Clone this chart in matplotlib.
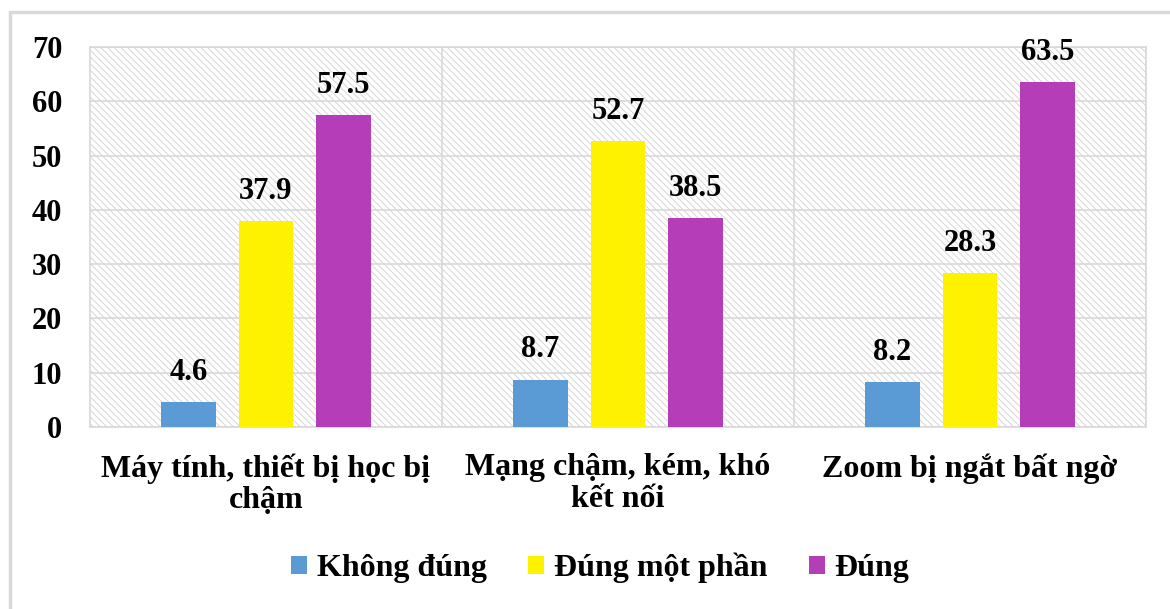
"""
Grouped bar chart: khó khăn khi học trực tuyến (%)
"""
import matplotlib.pyplot as plt
from matplotlib.patches import Rectangle
import numpy as np

categories = ['Máy tính, thiết bị học bị\nchậm', 'Mạng chậm, kém, khó\nkết nối', 'Zoom bị ngắt bất ngờ']
series_names = ['Không đúng', 'Đúng một phần', 'Đúng']
khong_dung = [4.6, 8.7, 8.2]
dung_mot_phan = [37.9, 52.7, 28.3]
dung = [57.5, 38.5, 63.5]
colors = ['#5B9BD5', '#FFF200', '#B63DB8']
yticks = [0, 10, 20, 30, 40, 50, 60, 70]

plt.rcParams['font.family'] = ['Liberation Serif', 'DejaVu Serif']
plt.rcParams['font.weight'] = 'bold'
plt.rcParams['hatch.linewidth'] = 0.7

fig = plt.figure(figsize=(11.7, 6.09), dpi=100)
# outer chart border
fig.add_artist(Rectangle((10 / 1170, -0.05), 1.2, 1 - 12 / 609 + 0.05,
                         transform=fig.transFigure, fill=False,
                         edgecolor='#D9D9D9', lw=2.5))

ax = fig.add_axes([90 / 1170, 1 - 427 / 609, (1146 - 90) / 1170, (427 - 47) / 609])

# hatched plot area
ax.add_patch(Rectangle((0, 0), 1, 1, transform=ax.transAxes, facecolor='white',
                       edgecolor='#D6D6D6', hatch='\\\\\\\\\\', lw=0, zorder=0))

x = np.arange(len(categories))
width = 0.155
step = 0.22
all_series = [khong_dung, dung_mot_phan, dung]
for i, (vals, name, c) in enumerate(zip(all_series, series_names, colors)):
    pos = x + (i - 1) * step
    bars = ax.bar(pos, vals, width, color=c, label=name, zorder=3)
    for b, v in zip(bars, vals):
        ax.annotate(f'{v}', (b.get_x() + b.get_width() / 2, v), xytext=(0, 11),
                    textcoords='offset points', ha='center', va='bottom',
                    fontsize=22, fontweight='bold')

ax.set_xlim(-0.5, 2.5)
ax.set_ylim(0, 70)
ax.set_yticks(yticks)
ax.set_yticklabels([str(t) for t in yticks], fontsize=22, fontweight='bold')
ax.set_xticks(x)
ax.set_xticklabels(categories, fontsize=23, fontweight='bold', linespacing=1.1)
ax.tick_params(axis='y', length=0, pad=20)
ax.tick_params(axis='x', length=0, pad=19)

ax.grid(axis='y', color='#D9D9D9', lw=1.2, zorder=1)
for xv in [0.5, 1.5, 2.5]:
    ax.axvline(xv, color='#D9D9D9', lw=1.2, zorder=1)
for s in ax.spines.values():
    s.set_color('#D9D9D9')
    s.set_linewidth(1.2)

ax.legend(loc='center', bbox_to_anchor=(600 / 1170, 1 - 568 / 609),
          bbox_transform=fig.transFigure, ncol=3, frameon=False,
          prop={'size': 23, 'weight': 'bold'}, handlelength=0.5, handleheight=0.5,
          handletextpad=0.3, columnspacing=1.3)

fig.savefig('out.png', dpi=100)
